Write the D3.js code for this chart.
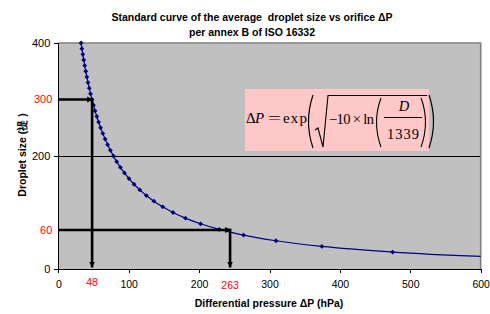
<!DOCTYPE html>
<html><head><meta charset="utf-8">
<script src="https://cdn.jsdelivr.net/npm/d3@7"></script>
<style>
html,body{margin:0;padding:0;background:#fff;}
svg{display:block;font-family:Arial,"Liberation Sans",sans-serif;}
text{white-space:pre;}
</style></head>
<body><svg id="chart" width="490" height="314"></svg>
<script>
// ---- data ----
const dropletSize = [400,390,380,370,360,350,340,330,320,310,300,290,280,270,260,250,240,230,220,210,200,190,180,170,160,150,140,130,120,110,100,90,80,70,60,50,40,30,20];
const pressure = [32.3,33.5,34.8,36.1,37.5,39.0,40.5,42.2,44.0,45.8,47.8,50.0,52.2,54.7,57.3,60.1,63.2,66.5,70.1,74.0,78.3,83.0,88.2,94.0,100.4,107.6,115.8,125.1,135.8,148.3,163.0,180.6,202.0,228.7,263.1,309.2,374.4,474.9,654.5];
const xTicks = [0,100,200,300,400,500,600];
const yTicks = [0,200,400];
const annotPressure = [48,244];
const annotSize = [300,69];
const annotPressureLabels = ["48","263"];
const annotSizeLabels = ["300","60"];
const titleLines = ["Standard curve of the average  droplet size vs orifice \u0394P","per annex B of ISO 16332"];
const xTitle = "Differential pressure \u0394P (hPa)";
const yTitle = "Droplet size (\u7994 )";

const svg = d3.select("#chart");
const W = 490, H = 314;
const m = {left:58.3, right:9.3, top:43, bottom:45};
const x = d3.scaleLinear().domain([0,600]).range([m.left, W-m.right]);
const y = d3.scaleLinear().domain([0,400]).range([H-m.bottom, m.top]);

// plot area
svg.append("rect").attr("x",x(0)).attr("y",y(400)).attr("width",x(600)-x(0)).attr("height",y(0)-y(400))
  .attr("fill","#C0C0C0");
// gridlines
svg.append("g").attr("shape-rendering","crispEdges").selectAll("line").data(yTicks.filter(d=>d>0 && d<400)).join("line")
  .attr("x1",x(0)).attr("x2",x(600)).attr("y1",d=>y(d)).attr("y2",d=>y(d))
  .attr("stroke","#000").attr("stroke-width",1);
// border top/right
svg.append("path").attr("d",`M${x(0)},${y(400)}H${x(600)}V${y(0)}`)
  .attr("fill","none").attr("stroke","#808080").attr("stroke-width",1.6);

// formula box
const fx = 245, fy = 89;
const fg = svg.append("g").attr("class","formula").attr("font-family","'Liberation Serif','Times New Roman',serif").attr("fill","#000");
fg.append("rect").attr("x",fx).attr("y",fy).attr("width",184).attr("height",62).attr("fill","#FFC8C8");
fg.append("text").attr("x",246).attr("y",122.5).attr("font-size",15).text("\u0394");
fg.append("text").attr("x",255).attr("y",122.5).attr("font-size",15).attr("font-style","italic").text("P");
fg.append("text").attr("x",268).attr("y",122.5).attr("font-size",15).attr("textLength",13).attr("lengthAdjust","spacingAndGlyphs").text("=");
fg.append("text").attr("x",283).attr("y",122.5).attr("font-size",15).attr("textLength",24).text("exp");
// big parens
fg.append("path").attr("d","M313,95 Q304,121.5 313,148").attr("fill","none").attr("stroke","#000").attr("stroke-width",1.2);
fg.append("path").attr("d","M429,95 Q438,121.5 429,148").attr("fill","none").attr("stroke","#000").attr("stroke-width",1.2);
// sqrt
fg.append("path").attr("d","M315,130 L318,128 L323,147 L328,95.5 L427,95.5").attr("fill","none").attr("stroke","#000").attr("stroke-width",1.1);
fg.append("text").attr("x",329).attr("y",123.5).attr("font-size",14.5).attr("textLength",45).text("\u221210 \u00d7 ln");
// medium parens
fg.append("path").attr("d","M381,98 Q372,122 381,147").attr("fill","none").attr("stroke","#000").attr("stroke-width",1.1);
fg.append("path").attr("d","M421,98 Q430,122 421,147").attr("fill","none").attr("stroke","#000").attr("stroke-width",1.1);
fg.append("text").attr("x",404).attr("y",111).attr("font-size",14.5).attr("font-style","italic").attr("text-anchor","middle").text("D");
fg.append("line").attr("x1",384).attr("x2",422).attr("y1",117.5).attr("y2",117.5).attr("stroke","#000").attr("stroke-width",1);
fg.append("text").attr("x",387).attr("y",138.5).attr("font-size",14.5).attr("textLength",32).text("1339");

// clip
svg.append("clipPath").attr("id","clip").append("rect")
  .attr("x",x(0)).attr("y",y(400)-3).attr("width",x(600)-x(0)).attr("height",y(0)-y(400)+3);

// curve
const pts = dropletSize.map((d,i)=>({d, p:pressure[i]}));
const cg = svg.append("g").attr("clip-path","url(#clip)");
cg.append("path").datum(pts)
  .attr("d", d3.line().x(d=>x(d.p)).y(d=>y(d.d)).curve(d3.curveMonotoneX))
  .attr("fill","none").attr("stroke","#000080").attr("stroke-width",1.2);
cg.selectAll("path.mk").data(pts).join("path").attr("class","mk")
  .attr("transform",d=>`translate(${x(d.p)},${y(d.d)})`)
  .attr("d","M0,-2.4L2.4,0L0,2.4L-2.4,0Z").attr("fill","#000080");

// arrows
const defs = svg.append("defs");
defs.append("marker").attr("id","ah").attr("markerUnits","userSpaceOnUse")
  .attr("markerWidth",8).attr("markerHeight",8).attr("refX",6).attr("refY",3.5).attr("orient","auto")
  .append("path").attr("d","M0,0.5 L6,3.5 L0,6.5 Z").attr("fill","#000");
const ag = svg.append("g");
annotPressure.forEach((p,i)=>{
  const s = annotSize[i];
  ag.append("line").attr("x1",x(0)).attr("y1",y(s)).attr("x2",x(p)+1).attr("y2",y(s))
    .attr("stroke","#000").attr("stroke-width",2.6).attr("marker-end","url(#ah)");
  ag.append("line").attr("x1",x(p)).attr("y1",y(s)-1.3).attr("x2",x(p)).attr("y2",y(0)-1.5)
    .attr("stroke","#000").attr("stroke-width",2.6).attr("marker-end","url(#ah)");
});

// axes
const xa = svg.append("g").attr("transform",`translate(0,${y(0)})`)
  .call(d3.axisBottom(x).tickValues(xTicks).tickSize(4).tickPadding(8).tickFormat(d3.format("d")));
const ya = svg.append("g").attr("transform",`translate(${x(0)},0)`)
  .call(d3.axisLeft(y).tickValues(yTicks).tickSize(4).tickPadding(4).tickFormat(d3.format("d")));
[xa,ya].forEach(a=>{
  a.select(".domain").attr("stroke","#000").attr("stroke-width",1).attr("shape-rendering","crispEdges");
  a.selectAll(".tick line").attr("stroke","#000").attr("shape-rendering","crispEdges");
  a.selectAll("text").attr("fill","#000").attr("font-family","Arial,'Liberation Sans',sans-serif");
});
xa.selectAll("text").attr("font-size",10.5);
ya.selectAll("text").attr("font-size",11).attr("dy","0.35em");

// red annotation labels
svg.append("g").selectAll("text").data(annotPressure).join("text")
  .attr("x",d=>x(d)).attr("y",(d,i)=>i===0?y(0)+16.5:y(0)+19.8).attr("text-anchor","middle")
  .attr("font-size",10.5).attr("fill","#FF0000").text((d,i)=>annotPressureLabels[i]);
svg.append("g").selectAll("text").data(annotSize).join("text")
  .attr("x",x(0)-6).attr("y",d=>y(d)).attr("dy","0.35em").attr("text-anchor","end")
  .attr("font-size",11).attr("fill","#FF0000").text((d,i)=>annotSizeLabels[i]);

// titles
svg.append("g").selectAll("text").data(titleLines).join("text")
  .attr("x",252).attr("y",(d,i)=>21+i*15).attr("text-anchor","middle")
  .attr("font-size",10.5).attr("font-weight","bold").text(d=>d);
svg.append("text").attr("x",269).attr("y",307).attr("text-anchor","middle")
  .attr("font-size",10.5).attr("font-weight","bold").text(xTitle);
svg.append("text").attr("transform","translate(26,155) rotate(-90)").attr("text-anchor","middle")
  .attr("font-size",10.5).attr("font-weight","bold").text(yTitle);
</script></body></html>
